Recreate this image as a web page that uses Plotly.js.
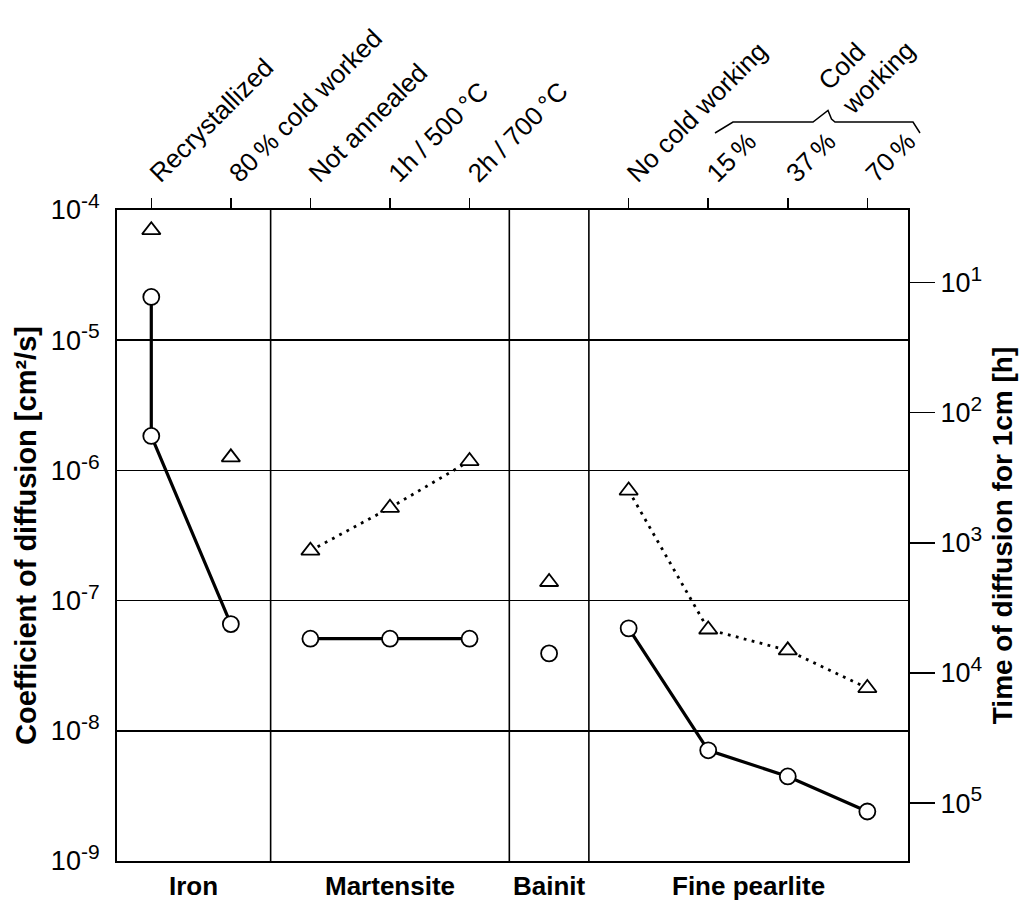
<!DOCTYPE html>
<html>
<head>
<meta charset="utf-8">
<script src="https://cdn.plot.ly/plotly-3.0.1.min.js"></script>
<style>html,body{margin:0;padding:0;background:#fff;}#chart{width:1034px;height:901px;}</style>
</head>
<body>
<div id="chart"></div>
<script>
// ---------------- data ----------------
const categories = ['Recrystallized', '80\u2009% cold worked', 'Not annealed', '1h / 500\u2009°C', '2h / 700\u2009°C',
                    'Bainit', 'No cold working', '15\u2009%', '37\u2009%', '70\u2009%'];
const tickLabels = ['Recrystallized', '80\u2009% cold worked', 'Not annealed', '1h / 500\u2009°C', '2h / 700\u2009°C',
                    'No cold working', '15\u2009%', '37\u2009%', '70\u2009%'];
const groups = ['Iron', 'Martensite', 'Bainit', 'Fine pearlite'];
const groupFirst = [0, 2, 5, 6];   // index of first category of each group

const ironCircleX = ['Recrystallized', 'Recrystallized', '80\u2009% cold worked'];
const ironCircleD = [2.15e-5, 1.84e-6, 6.6e-8];
const ironTriX = ['Recrystallized', '80\u2009% cold worked'];
const ironTriD = [7.0e-5, 1.26e-6];

const martX = ['Not annealed', '1h / 500\u2009°C', '2h / 700\u2009°C'];
const martCircleD = [5.1e-8, 5.1e-8, 5.1e-8];
const martTriD = [2.42e-7, 5.16e-7, 1.18e-6];

const bainitX = ['Bainit'];
const bainitCircleD = [3.93e-8];
const bainitTriD = [1.39e-7];

const pearlX = ['No cold working', '15\u2009%', '37\u2009%', '70\u2009%'];
const pearlCircleD = [6.12e-8, 7.08e-9, 4.46e-9, 2.40e-9];
const pearlTriD = [7.0e-7, 6.0e-8, 4.15e-8, 2.13e-8];

const dTicks = [1e-9, 1e-8, 1e-7, 1e-6, 1e-5, 1e-4];
const dExponents = ['-9', '-8', '-7', '-6', '-5', '-4'];
const tTicks = [1e1, 1e2, 1e3, 1e4, 1e5];
const tExponents = ['1', '2', '3', '4', '5'];

// ---------------- layout geometry ----------------
const W = 1034, H = 901;
const M = {l: 117, r: 126, t: 210, b: 40};
const xRange = [-0.431, 9.511];
const dRangeLog = [-9, -4];
// time [h] to diffuse 1 cm: t = 1 cm^2 / D / 3600
const hours = d => 1 / (d * 3600);
const tRangeLog = [Math.log10(hours(Math.pow(10, dRangeLog[0]))), Math.log10(hours(Math.pow(10, dRangeLog[1])))];

const plotW = W - M.l - M.r, plotH = H - M.t - M.b;
const pxX = x => (x - M.l) / plotW;
const pxY = y => (H - M.b - y) / plotH;

const FONT = 'Liberation Sans, Arial, Helvetica, sans-serif';
const powLabel = e => '10<sup><span style="font-size:21px">' + e + '</span></sup>';

const solidLine = {color: '#000', width: 3.2};
const dotLine = {color: '#000', width: 2.8, dash: '2.8px,5.4px'};
const circ = {symbol: 'circle', size: 16, color: '#fff', line: {color: '#000', width: 1.8}};
const tri = {symbol: 'triangle-up', size: 16, color: '#fff', line: {color: '#000', width: 1.8}};

function tr(x, y, mode, line, marker) {
  return {x: x, y: y, type: 'scatter', mode: mode, line: line, marker: marker,
          xaxis: 'x', yaxis: 'y', hoverinfo: 'skip', showlegend: false, cliponaxis: false};
}

const traces = [
  tr(martX, martTriD, 'lines+markers', dotLine, tri),
  tr(pearlX, pearlTriD, 'lines+markers', dotLine, tri),
  tr(ironTriX, ironTriD, 'markers', dotLine, tri),
  tr(bainitX, bainitTriD, 'markers', dotLine, tri),
  tr(ironCircleX, ironCircleD, 'lines+markers', solidLine, circ),
  tr(martX, martCircleD, 'lines+markers', solidLine, circ),
  tr(bainitX, bainitCircleD, 'markers', solidLine, circ),
  tr(pearlX, pearlCircleD, 'lines+markers', solidLine, circ),
  // same fine-pearlite points expressed as diffusion time, invisible: carries the right-hand axis
  {x: pearlX, y: pearlCircleD.map(hours), type: 'scatter', mode: 'markers', xaxis: 'x', yaxis: 'y2',
   marker: {opacity: 0, size: 1}, hoverinfo: 'skip', showlegend: false}
];

// group dividers halfway between the last category of a group and the first of the next
const dividers = groupFirst.slice(1).map(i => i - 0.5);
const shapes = dividers.map(d => ({
  type: 'line', xref: 'x', yref: 'paper', x0: d, x1: d, y0: 0, y1: 1,
  line: {color: '#000', width: 1.6}, layer: 'below'
}));

// "Cold working" bracket over 15 %, 37 %, 70 %
const bracketPts = [[715, 133], [733, 122], [813, 122], [828, 110.5], [831.5, 119], [835, 122], [913, 122], [920, 133]];
shapes.push({
  type: 'path', xref: 'paper', yref: 'paper',
  path: 'M' + bracketPts.map(p => pxX(p[0]).toFixed(5) + ',' + pxY(p[1]).toFixed(5)).join(' L'),
  line: {color: '#000', width: 1.5}
});

const bounds = [xRange[0]].concat(dividers, [xRange[1]]);
const annotations = groups.map((g, i) => ({
  text: g, xref: 'x', yref: 'paper', x: (bounds[i] + bounds[i + 1]) / 2, y: pxY(886),
  xanchor: 'center', yanchor: 'middle', showarrow: false,
  font: {family: FONT, size: 26, color: '#000', weight: 'bold'}
}));
annotations.push({
  text: 'Cold<br>working', xref: 'paper', yref: 'paper', x: pxX(866), y: pxY(66),
  xanchor: 'center', yanchor: 'middle', align: 'left', textangle: -45, showarrow: false,
  font: {family: FONT, size: 26, color: '#000'}
});

const layout = {
  width: W, height: H, autosize: false,
  margin: M,
  paper_bgcolor: '#fff', plot_bgcolor: '#fff',
  showlegend: false,
  font: {family: FONT, color: '#000'},
  xaxis: {
    type: 'category', categoryorder: 'array', categoryarray: categories,
    range: xRange, side: 'top',
    tickmode: 'array', tickvals: tickLabels, ticktext: tickLabels,
    tickangle: -45, ticks: 'outside', ticklen: 10, tickwidth: 1.5, tickcolor: '#000',
    tickfont: {family: FONT, size: 26, color: '#000'},
    showgrid: false, zeroline: false,
    showline: true, mirror: true, linecolor: '#000', linewidth: 2
  },
  yaxis: {
    type: 'log', range: dRangeLog,
    tickmode: 'array', tickvals: dTicks, ticktext: dExponents.map(powLabel),
    ticks: '', ticklabelstandoff: 10,
    tickfont: {family: FONT, size: 27, color: '#000'},
    showgrid: true, gridcolor: '#000', gridwidth: 1.6,
    showline: true, mirror: true, linecolor: '#000', linewidth: 2, zeroline: false,
    title: {text: 'Coefficient of diffusion [cm²/s]', standoff: 6,
            font: {family: FONT, size: 29, color: '#000', weight: 'bold'}}
  },
  yaxis2: {
    type: 'log', overlaying: 'y', side: 'right', anchor: 'x',
    range: tRangeLog,
    tickmode: 'array', tickvals: tTicks, ticktext: tExponents.map(powLabel),
    ticks: 'outside', ticklen: 26, tickwidth: 1.5, tickcolor: '#000',
    tickfont: {family: FONT, size: 27, color: '#000'},
    showgrid: false, showline: false, zeroline: false,
    title: {text: 'Time of diffusion for 1cm [h]', standoff: 10,
            font: {family: FONT, size: 28, color: '#000', weight: 'bold'}}
  },
  shapes: shapes,
  annotations: annotations
};

Plotly.newPlot('chart', traces, layout, {staticPlot: true, displayModeBar: false});
</script>
</body>
</html>
